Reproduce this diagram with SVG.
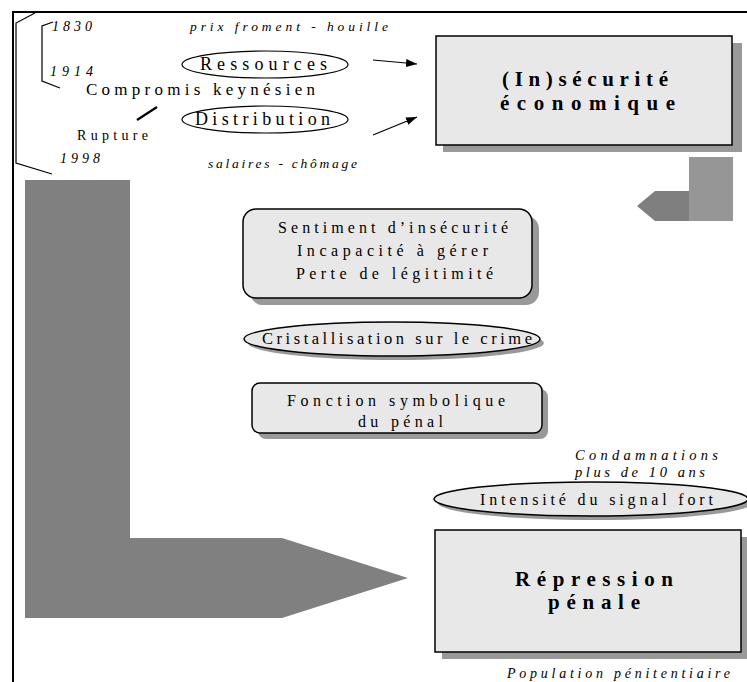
<svg xmlns="http://www.w3.org/2000/svg" width="747" height="682" viewBox="0 0 747 682">
<defs>
<marker id="ah" viewBox="0 0 10 10" refX="10" refY="5" markerWidth="11" markerHeight="8" markerUnits="userSpaceOnUse" orient="auto" preserveAspectRatio="none">
<path d="M0,0 L10,5 L0,10 z" fill="#000"/>
</marker>
</defs>
<style>
text{font-family:"Liberation Serif","Times New Roman",serif;fill:#000}
.it{font-style:italic}
.b{font-weight:bold}
.box{fill:#e8e8e8;stroke:#000;stroke-width:1.5}
.sh{fill:#999}
.ln{stroke:#000;stroke-width:1.2;fill:none}
.big{fill:#808080}
</style>
<rect width="747" height="682" fill="#fff"/>
<path d="M13,682 V12 H747" fill="none" stroke="#000" stroke-width="2"/>
<g id="brackets">
<path class="ln" d="M35,13 L16,23 V163 L52,174"/>
<path class="ln" d="M53,22 L42,26 V81 L60,88"/>
<path d="M137,120 L157,107" stroke="#000" stroke-width="2.2"/>
</g>
<g id="dates">
<text class="it" x="52" y="31" font-size="14" textLength="40" lengthAdjust="spacing">1830</text>
<text class="it" x="50" y="76" font-size="14" textLength="43" lengthAdjust="spacing">1914</text>
<text class="it" x="60" y="163" font-size="14" textLength="40" lengthAdjust="spacing">1998</text>
<text x="86" y="95" font-size="17" textLength="229" lengthAdjust="spacing">Compromis keynésien</text>
<text x="77" y="140" font-size="14" textLength="71" lengthAdjust="spacing">Rupture</text>
<text class="it" x="190" y="31" font-size="13.5" textLength="198" lengthAdjust="spacing">prix froment - houille</text>
<text class="it" x="208" y="168" font-size="13.5" textLength="149" lengthAdjust="spacing">salaires - chômage</text>
</g>
<g id="ressources">
<ellipse cx="265" cy="64.5" rx="83" ry="13.5" fill="#fff" stroke="#000" stroke-width="1.2"/>
<text x="200" y="70" font-size="18" textLength="127" lengthAdjust="spacing">Ressources</text>
</g>
<g id="distribution">
<ellipse cx="265" cy="119.5" rx="83" ry="13.5" fill="#fff" stroke="#000" stroke-width="1.2"/>
<text x="195" y="125" font-size="18" textLength="135" lengthAdjust="spacing">Distribution</text>
</g>
<g id="connectors">
<line class="ln" x1="373" y1="60" x2="417" y2="64" marker-end="url(#ah)"/>
<line class="ln" x1="373" y1="135" x2="417" y2="117" marker-end="url(#ah)"/>
<path class="big" d="M25,180 H130 V538 H282 L408,578 L282,618 H25 Z"/>
<rect x="689" y="157" width="44" height="64" fill="#969696"/>
<path d="M689,191 H655 L637,206 L655,221 H689 Z" fill="#7f7f7f"/>
</g>
<g id="insecurite">
<rect class="sh" x="443" y="43" width="299" height="109"/>
<rect class="box" x="436" y="36" width="296" height="109"/>
<text class="b" x="502" y="86" font-size="21" textLength="166" lengthAdjust="spacing">(In)sécurité</text>
<text class="b" x="500" y="110" font-size="21" textLength="175" lengthAdjust="spacing">économique</text>
</g>
<g id="sentiment">
<rect class="sh" x="250" y="216" width="289" height="89" rx="13"/>
<rect class="box" x="243" y="209" width="289" height="89" rx="13"/>
<text x="278" y="233" font-size="16" textLength="230" lengthAdjust="spacing">Sentiment d’insécurité</text>
<text x="297" y="256" font-size="16" textLength="191" lengthAdjust="spacing">Incapacité à gérer</text>
<text x="296" y="279" font-size="16" textLength="197" lengthAdjust="spacing">Perte de légitimité</text>
</g>
<g id="cristallisation">
<ellipse class="sh" cx="396" cy="343" rx="148" ry="17"/>
<ellipse class="box" cx="392" cy="339" rx="148" ry="17"/>
<text x="262" y="344" font-size="16.5" textLength="270" lengthAdjust="spacing">Cristallisation sur le crime</text>
</g>
<g id="fonction">
<rect class="sh" x="258" y="389" width="290" height="50" rx="8"/>
<rect class="box" x="252" y="383" width="290" height="50" rx="8"/>
<text x="287" y="406" font-size="16" textLength="218" lengthAdjust="spacing">Fonction symbolique</text>
<text x="358" y="427" font-size="16" textLength="85" lengthAdjust="spacing">du pénal</text>
</g>
<g id="intensite">
<text class="it" x="575" y="460" font-size="14.5" textLength="143" lengthAdjust="spacing">Condamnations</text>
<text class="it" x="575" y="477" font-size="14.5" textLength="130" lengthAdjust="spacing">plus de 10 ans</text>
<ellipse class="sh" cx="595" cy="503" rx="157" ry="17"/>
<ellipse class="box" cx="591" cy="499" rx="157" ry="17"/>
<text x="480" y="505" font-size="16" textLength="233" lengthAdjust="spacing">Intensité du signal fort</text>
</g>
<g id="repression">
<rect class="sh" x="442" y="537" width="306" height="122"/>
<rect class="box" x="435" y="530" width="306" height="122"/>
<text class="b" x="515" y="586" font-size="21" textLength="158" lengthAdjust="spacing">Répression</text>
<text class="b" x="548" y="609" font-size="21" textLength="92" lengthAdjust="spacing">pénale</text>
<text class="it" x="507" y="678" font-size="14" textLength="223" lengthAdjust="spacing">Population pénitentiaire</text>
</g>
</svg>
